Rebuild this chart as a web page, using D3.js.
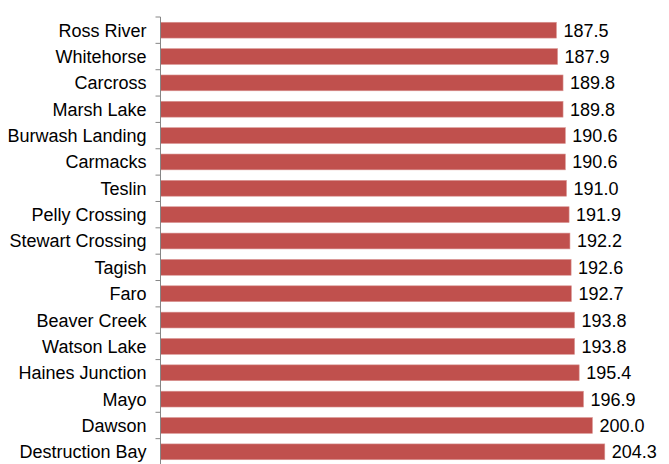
<!DOCTYPE html>
<html>
<head>
<meta charset="utf-8">
<script src="https://cdn.jsdelivr.net/npm/d3@7"></script>
<style>
  body { margin: 0; background: #fff; }
  svg { display: block; }
</style>
</head>
<body>
<div id="chart"></div>
<script>
const places = ["Ross River", "Whitehorse", "Carcross", "Marsh Lake", "Burwash Landing", "Carmacks",
  "Teslin", "Pelly Crossing", "Stewart Crossing", "Tagish", "Faro", "Beaver Creek", "Watson Lake",
  "Haines Junction", "Mayo", "Dawson", "Destruction Bay"];
const values = [187.5, 187.9, 189.8, 189.8, 190.6, 190.6, 191.0, 191.9, 192.2, 192.6, 192.7,
  193.8, 193.8, 195.4, 196.9, 200.0, 204.3];

const width = 669, height = 464;
const margin = { top: 17, right: 19, bottom: -1, left: 160.5 };
const font = "Liberation Sans, Arial, sans-serif";

const data = places.map((p, i) => ({ label: p, value: values[i] }));

// x axis starts at 50, not zero
const x = d3.scaleLinear()
  .domain([50, 220])
  .range([margin.left, width - margin.right]);

const y = d3.scaleBand()
  .domain(places)
  .range([margin.top, height - margin.bottom])
  .paddingInner(0.4)
  .paddingOuter(0.2);

const svg = d3.select("#chart")
  .append("svg")
  .attr("width", width)
  .attr("height", height);

// bars
svg.append("g")
  .selectAll("rect")
  .data(data)
  .join("rect")
  .attr("x", x(50))
  .attr("y", d => y(d.label))
  .attr("width", d => x(d.value) - x(50))
  .attr("height", y.bandwidth())
  .attr("fill", "#C0504D")
  .attr("stroke", "#D99694")
  .attr("stroke-width", 0.6);

// value labels
svg.append("g")
  .selectAll("text")
  .data(data)
  .join("text")
  .attr("x", d => x(d.value) + 7)
  .attr("y", d => y(d.label) + y.bandwidth() / 2)
  .attr("dy", "0.36em")
  .attr("font-family", font)
  .attr("font-size", 18)
  .attr("fill", "#000")
  .text(d => d3.format(".1f")(d.value));

// category axis, ticks between bands
const yAxis = svg.append("g")
  .attr("transform", `translate(${margin.left},0)`);

yAxis.append("line")
  .attr("x1", 0).attr("x2", 0)
  .attr("y1", margin.top).attr("y2", height - margin.bottom)
  .attr("stroke", "#868686");

const bandStep = (height - margin.bottom - margin.top) / places.length;
yAxis.selectAll("line.tick")
  .data(d3.range(places.length + 1))
  .join("line")
  .attr("class", "tick")
  .attr("x1", -5).attr("x2", 0)
  .attr("y1", i => margin.top + i * bandStep)
  .attr("y2", i => margin.top + i * bandStep)
  .attr("stroke", "#868686");

yAxis.selectAll("text")
  .data(places)
  .join("text")
  .attr("x", -14)
  .attr("y", d => y(d) + y.bandwidth() / 2)
  .attr("dy", "0.36em")
  .attr("text-anchor", "end")
  .attr("font-family", font)
  .attr("font-size", 18)
  .attr("fill", "#000")
  .text(d => d);
</script>
</body>
</html>
